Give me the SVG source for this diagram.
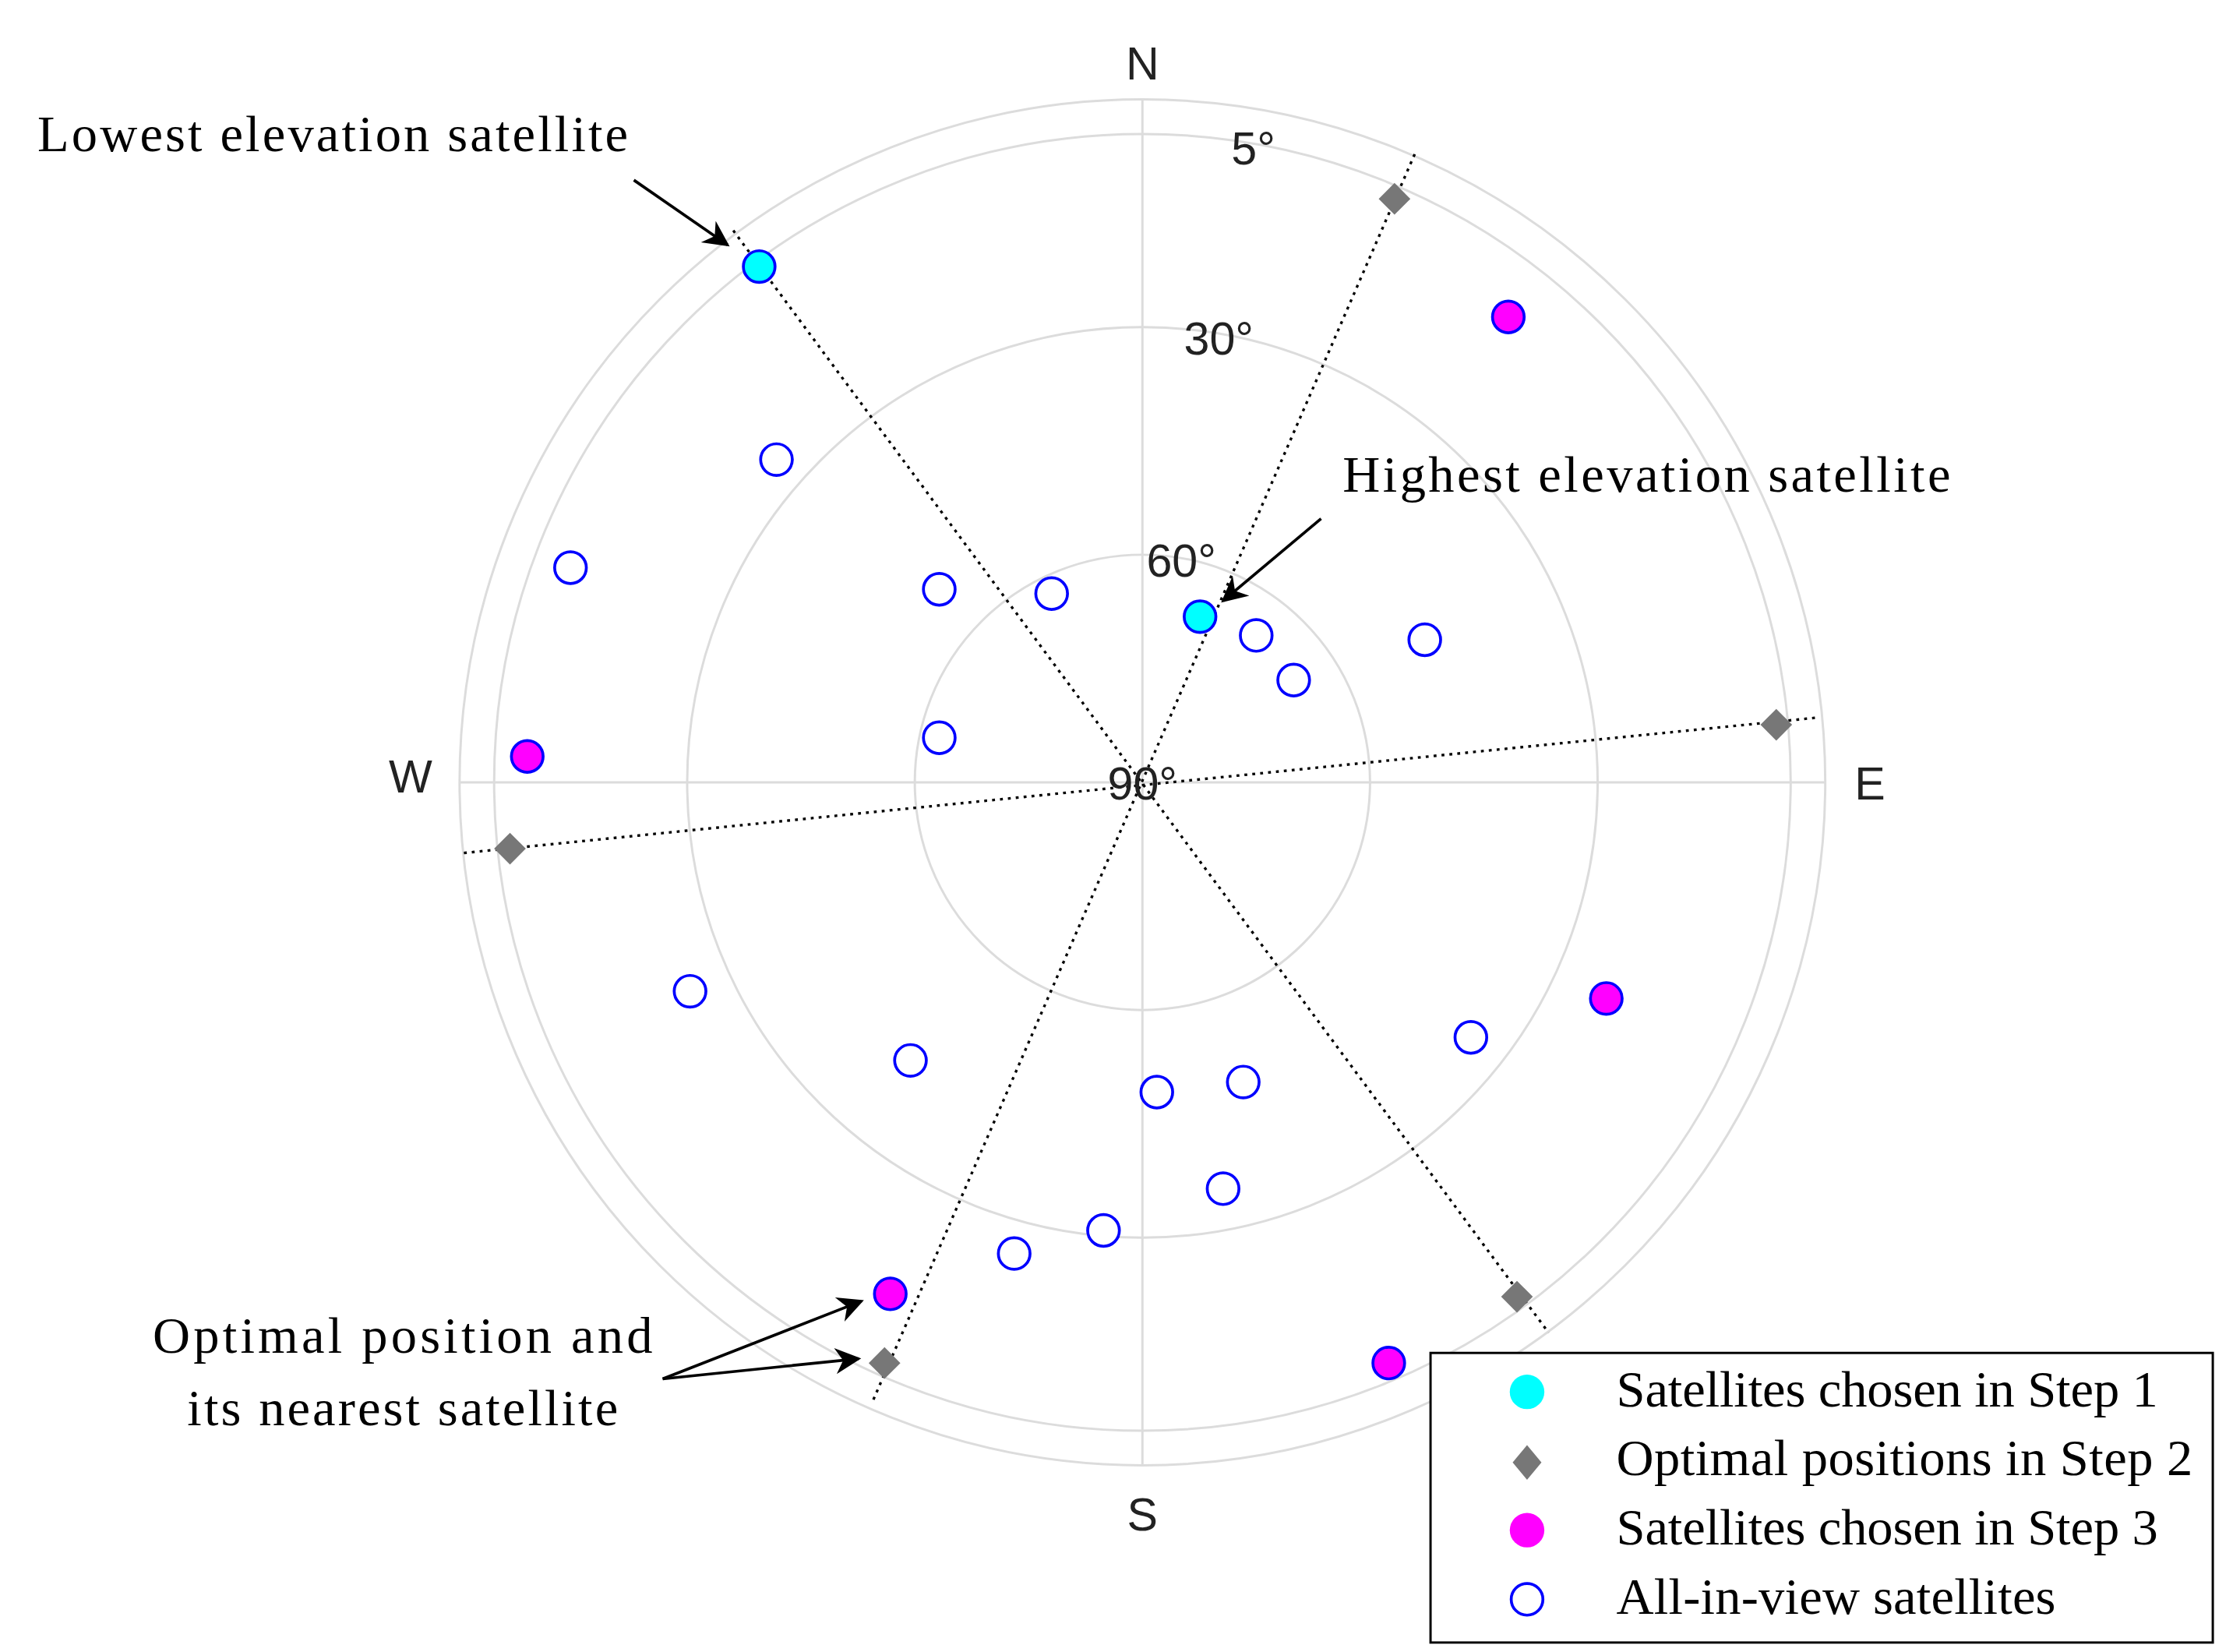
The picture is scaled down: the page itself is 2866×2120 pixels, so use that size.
<svg xmlns="http://www.w3.org/2000/svg" width="2866" height="2120" viewBox="0 0 2866 2120">
<defs>
<style>
.grid{fill:none;stroke:#dcdcdc;stroke-width:1.6}
.dot{fill:none;stroke:#000;stroke-width:1.8;stroke-dasharray:2 3.5}
.sat{fill:#fff;stroke:#0000ff;stroke-width:2}
.cy{fill:#00ffff;stroke:#0000ff;stroke-width:2}
.mg{fill:#ff00ff;stroke:#0000ff;stroke-width:2}
.dm{fill:#777}
.ax{font-family:"Liberation Sans",Arial,sans-serif;font-size:32px;fill:#222;text-anchor:middle}
.ann{font-family:"Liberation Serif","Times New Roman",serif;font-size:36px;fill:#000}
.arr{stroke:#000;stroke-width:2;fill:none;marker-end:url(#ah)}
</style>
<marker id="ah" viewBox="0 0 10 10" refX="9" refY="5" markerWidth="28" markerHeight="18" markerUnits="userSpaceOnUse" orient="auto"><path d="M0,0 L10,5 L0,10 L3,5 z" fill="#000"/></marker>
<path id="d" d="M0,-11 L11,0 L0,11 L-11,0 z"/>
</defs>
<rect width="2866" height="2120" fill="#fff"/>
<g transform="scale(1.849)">
<g id="grid">
<circle class="grid" cx="793" cy="543" r="158"/>
<circle class="grid" cx="793" cy="543" r="316"/>
<circle class="grid" cx="793" cy="543" r="450"/>
<circle class="grid" cx="793" cy="543" r="474"/>
<line class="grid" x1="793" y1="69" x2="793" y2="1017"/>
<line class="grid" x1="319" y1="543" x2="1267" y2="543"/>
</g>
<g id="connectors">
<line class="dot" x1="509" y1="160" x2="1075" y2="925"/>
<line class="dot" x1="982" y1="107" x2="606" y2="972"/>
<line class="dot" x1="322" y1="592" x2="1262" y2="498"/>
<line class="arr" x1="440" y1="125" x2="505" y2="170"/>
<line class="arr" x1="917" y1="360" x2="849" y2="417"/>
<line class="arr" x1="460" y1="957" x2="598" y2="903"/>
<line class="arr" x1="460" y1="957" x2="596" y2="943"/>
</g>
<g id="labels">
<text class="ax" x="793" y="55">N</text>
<text class="ax" x="793" y="1062">S</text>
<text class="ax" x="285" y="550">W</text>
<text class="ax" x="1298" y="555">E</text>
<text class="ax" x="870" y="114">5°</text>
<text class="ax" x="846" y="246">30°</text>
<text class="ax" x="820" y="400">60°</text>
<text class="ax" x="793" y="555">90°</text>
<text class="ann" x="26" y="105" textLength="410" lengthAdjust="spacing">Lowest elevation satellite</text>
<text class="ann" x="932" y="341" textLength="422" lengthAdjust="spacing">Highest elevation satellite</text>
<text class="ann" x="106" y="939" textLength="347" lengthAdjust="spacing">Optimal position and</text>
<text class="ann" x="130" y="989" textLength="299" lengthAdjust="spacing">its nearest satellite</text>
</g>
<g id="all-in-view">
<circle class="sat" cx="539" cy="319" r="11"/><circle class="sat" cx="396" cy="394" r="11"/>
<circle class="sat" cx="652" cy="409" r="11"/><circle class="sat" cx="730" cy="412" r="11"/>
<circle class="sat" cx="872" cy="441" r="11"/><circle class="sat" cx="898" cy="472" r="11"/>
<circle class="sat" cx="989" cy="444" r="11"/><circle class="sat" cx="652" cy="512" r="11"/>
<circle class="sat" cx="479" cy="688" r="11"/><circle class="sat" cx="632" cy="736" r="11"/>
<circle class="sat" cx="803" cy="758" r="11"/><circle class="sat" cx="863" cy="751" r="11"/>
<circle class="sat" cx="1021" cy="720" r="11"/><circle class="sat" cx="849" cy="825" r="11"/>
<circle class="sat" cx="766" cy="854" r="11"/><circle class="sat" cx="704" cy="870" r="11"/>
</g>
<g id="step1">
<circle class="cy" cx="527" cy="185" r="11"/><circle class="cy" cx="833" cy="428" r="11"/>
</g>
<g id="step2">
<use href="#d" class="dm" x="968" y="138"/><use href="#d" class="dm" x="1233" y="503"/>
<use href="#d" class="dm" x="354" y="589"/><use href="#d" class="dm" x="1053" y="900"/>
<use href="#d" class="dm" x="614" y="946"/>
</g>
<g id="step3">
<circle class="mg" cx="1047" cy="220" r="11"/><circle class="mg" cx="366" cy="525" r="11"/>
<circle class="mg" cx="1115" cy="693" r="11"/><circle class="mg" cx="618" cy="898" r="11"/>
<circle class="mg" cx="964" cy="946" r="11"/>
</g>
<g id="legend">
<rect x="993" y="939" width="543" height="201" fill="#fff" stroke="#000" stroke-width="1.6"/>
<circle cx="1060" cy="966" r="12" fill="#00ffff"/>
<path d="M1060,1003 L1070,1015 L1060,1027 L1050,1015 z" class="dm"/>
<circle cx="1060" cy="1062" r="12" fill="#ff00ff"/>
<circle cx="1060" cy="1110" r="11" class="sat"/>
<text class="ann" x="1122" y="976" textLength="376" lengthAdjust="spacing">Satellites chosen in Step 1</text>
<text class="ann" x="1122" y="1024" textLength="400" lengthAdjust="spacing">Optimal positions in Step 2</text>
<text class="ann" x="1122" y="1072" textLength="376" lengthAdjust="spacing">Satellites chosen in Step 3</text>
<text class="ann" x="1122" y="1120" textLength="305" lengthAdjust="spacing">All-in-view satellites</text>
</g>
</g>
</svg>
